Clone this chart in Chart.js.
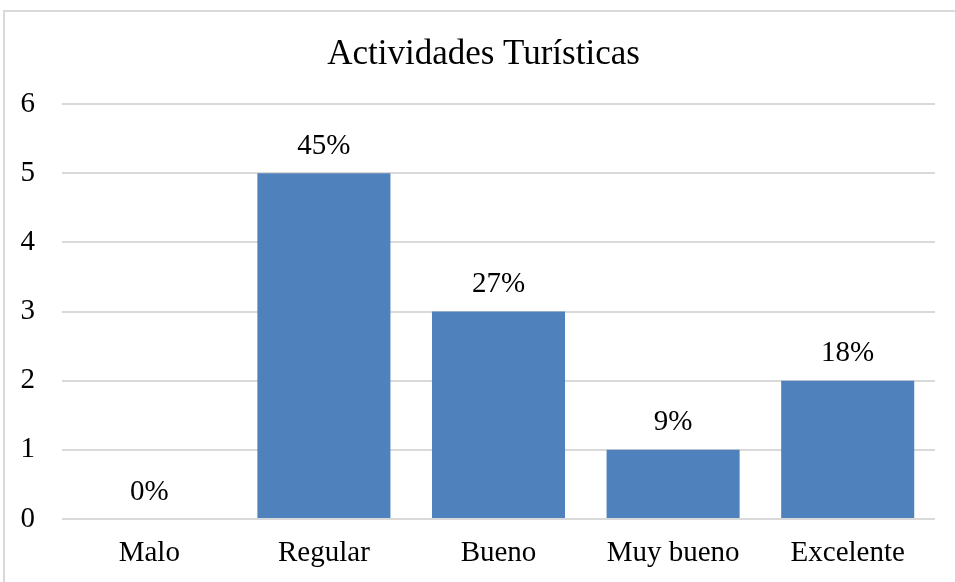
<!DOCTYPE html>
<html>
<head>
<meta charset="utf-8">
<script src="https://cdn.jsdelivr.net/npm/chart.js@4"></script>
<style>
html,body{margin:0;padding:0;background:#fff;overflow:hidden;}
#wrap{position:relative;width:955px;height:582px;}
</style>
</head>
<body>
<div id="wrap"><canvas id="c" width="955" height="582"></canvas></div>
<script>
const categories = ['Malo', 'Regular', 'Bueno', 'Muy bueno', 'Excelente'];
const counts = [0, 5, 3, 1, 2];
const pctLabels = ['0%', '45%', '27%', '9%', '18%'];
const yTicks = [0, 1, 2, 3, 4, 5, 6];
const titleText = 'Actividades Turísticas';

const FONT = "'Liberation Serif', 'Times New Roman', serif";

const borderPlugin = {
  id: 'frame',
  afterLayout(chart) {
    // centre the title on the whole frame, like the original
    if (chart.titleBlock) {
      chart.titleBlock.left += 16;
      chart.titleBlock.right += 16;
    }
  },
  beforeDraw(chart) {
    const ctx = chart.ctx;
    ctx.save();
    ctx.fillStyle = '#ffffff';
    ctx.fillRect(0, 0, chart.width, chart.height);
    ctx.strokeStyle = '#d9d9d9';
    ctx.lineWidth = 2;
    ctx.beginPath();
    ctx.moveTo(4, chart.height + 5);
    ctx.lineTo(4, 11);
    ctx.lineTo(chart.width + 5, 11);
    ctx.stroke();
    ctx.restore();
  }
};

const labelPlugin = {
  id: 'pctLabels',
  afterDatasetsDraw(chart) {
    const ctx = chart.ctx;
    const meta = chart.getDatasetMeta(0);
    ctx.save();
    ctx.font = '29px ' + FONT;
    ctx.fillStyle = '#000';
    ctx.textAlign = 'center';
    ctx.textBaseline = 'middle';
    meta.data.forEach((bar, i) => {
      ctx.fillText(pctLabels[i], bar.x, bar.y - 27);
    });
    ctx.restore();
  }
};

new Chart(document.getElementById('c'), {
  type: 'bar',
  data: {
    labels: categories,
    datasets: [{
      data: counts,
      backgroundColor: '#4F81BD',
      borderWidth: 0,
      barPercentage: 0.762,
      categoryPercentage: 1.0
    }]
  },
  options: {
    responsive: false,
    animation: false,
    devicePixelRatio: 1,
    layout: { padding: { left: 0, right: 20, top: 0, bottom: 0 } },
    plugins: {
      legend: { display: false },
      tooltip: { enabled: false },
      title: {
        display: true,
        text: titleText,
        color: '#000',
        font: { family: FONT, size: 35, weight: 'normal', lineHeight: 1.2 },
        padding: { top: 34, bottom: 28 }
      }
    },
    scales: {
      x: {
        grid: { display: false, drawTicks: false },
        border: { display: false },
        ticks: {
          color: '#000',
          font: { family: FONT, size: 29 },
          padding: 17,
          maxRotation: 0,
          autoSkip: false
        },
        afterFit(scale) { scale.height = 63; }
      },
      y: {
        min: 0,
        max: 6,
        grid: { color: '#d9d9d9', lineWidth: 2, drawTicks: false },
        border: { display: false },
        afterBuildTicks(scale) { scale.ticks = yTicks.map(v => ({ value: v })); },
        ticks: {
          color: '#000',
          font: { family: FONT, size: 29 },
          padding: 27,
          stepSize: 1
        },
        afterFit(scale) { scale.width = 62; }
      }
    }
  },
  plugins: [borderPlugin, labelPlugin]
});
</script>
</body>
</html>
